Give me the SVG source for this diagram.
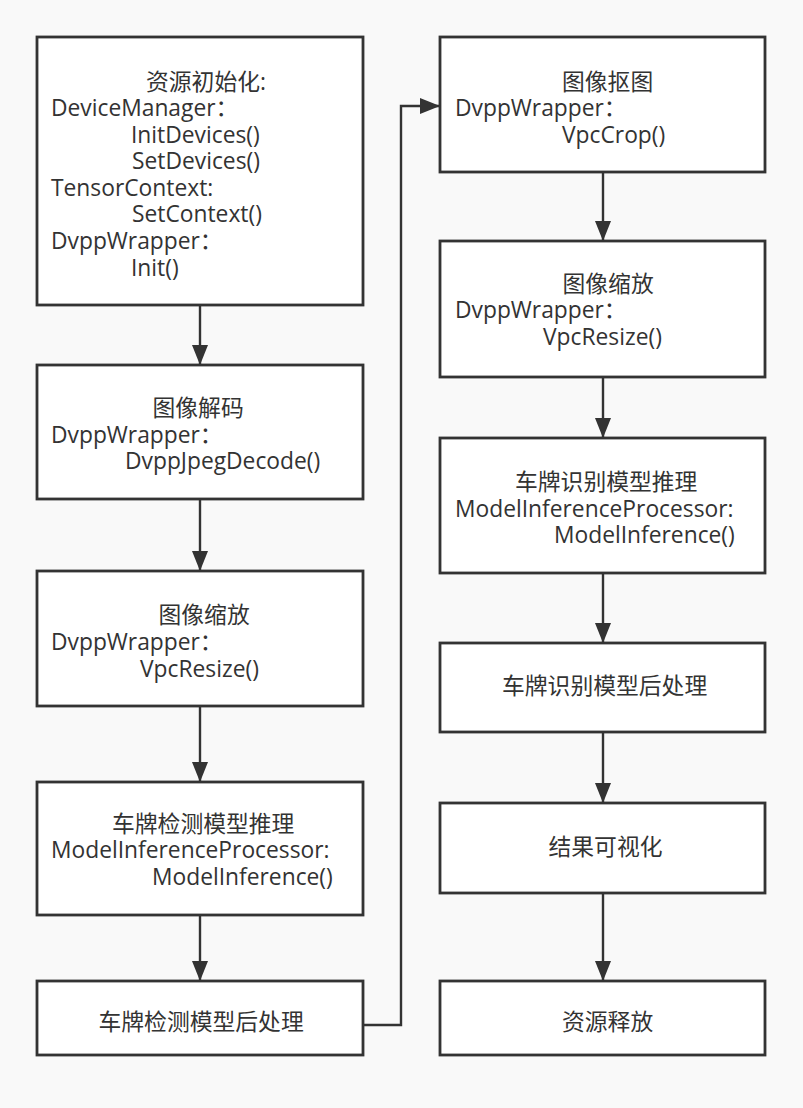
<svg xmlns="http://www.w3.org/2000/svg" width="803" height="1108" viewBox="0 0 803 1108">
<style>
.box{fill:#ffffff;stroke:#333333;stroke-width:2.8}
.t{font-family:"Open Sans","Noto Sans CJK SC",sans-serif;font-size:22.8px;fill:#333333}
.edge{fill:none;stroke:#333333;stroke-width:2.4}
</style>
<defs>
<marker id="arr" markerUnits="userSpaceOnUse" markerWidth="22" markerHeight="18" refX="20" refY="8" orient="auto">
<path d="M0,0 L20,8 L0,16 Z" fill="#333333"/>
</marker>
</defs>
<rect width="803" height="1108" fill="#f9f9f9"/>
<g id="connectors">
<path class="edge" d="M200,305 V365" marker-end="url(#arr)"/>
<path class="edge" d="M200,499 V571" marker-end="url(#arr)"/>
<path class="edge" d="M200,706 V782" marker-end="url(#arr)"/>
<path class="edge" d="M200,915 V981" marker-end="url(#arr)"/>
<path class="edge" d="M363,1025 H401 V106 H440" marker-end="url(#arr)"/>
<path class="edge" d="M603,172 V241" marker-end="url(#arr)"/>
<path class="edge" d="M603,377 V438" marker-end="url(#arr)"/>
<path class="edge" d="M603,573 V643" marker-end="url(#arr)"/>
<path class="edge" d="M603,732 V803" marker-end="url(#arr)"/>
<path class="edge" d="M603,893 V981" marker-end="url(#arr)"/>
</g>
<g id="n1">
<rect class="box" x="37" y="37" width="326" height="268"/>
<text class="t" x="146" y="89.5">资源初始化:</text>
<text class="t" x="51" y="116">DeviceManager：</text>
<text class="t" x="131" y="142.6">InitDevices()</text>
<text class="t" x="132" y="169.2">SetDevices()</text>
<text class="t" x="51" y="195.8">TensorContext:</text>
<text class="t" x="132" y="222.4">SetContext()</text>
<text class="t" x="51" y="249">DvppWrapper：</text>
<text class="t" x="131" y="275.6">Init()</text>
</g>
<g id="n2">
<rect class="box" x="37" y="365" width="326" height="134"/>
<text class="t" x="152.5" y="416">图像解码</text>
<text class="t" x="51" y="442.6">DvppWrapper：</text>
<text class="t" x="125" y="469.2">DvppJpegDecode()</text>
</g>
<g id="n3">
<rect class="box" x="37" y="571" width="326" height="135"/>
<text class="t" x="158.5" y="623.4">图像缩放</text>
<text class="t" x="51" y="650">DvppWrapper：</text>
<text class="t" x="140" y="676.6">VpcResize()</text>
</g>
<g id="n4">
<rect class="box" x="37" y="782" width="326" height="133"/>
<text class="t" x="112" y="831.8">车牌检测模型推理</text>
<text class="t" x="51" y="858.4">ModelInferenceProcessor:</text>
<text class="t" x="152" y="885">ModelInference()</text>
</g>
<g id="n5">
<rect class="box" x="37" y="981" width="326" height="74"/>
<text class="t" x="98.5" y="1030">车牌检测模型后处理</text>
</g>
<g id="n6">
<rect class="box" x="440" y="37" width="325" height="135"/>
<text class="t" x="562" y="89.5">图像抠图</text>
<text class="t" x="455" y="116">DvppWrapper：</text>
<text class="t" x="562" y="142.6">VpcCrop()</text>
</g>
<g id="n7">
<rect class="box" x="440" y="241" width="325" height="136"/>
<text class="t" x="562.5" y="291.5">图像缩放</text>
<text class="t" x="455" y="318">DvppWrapper：</text>
<text class="t" x="543" y="344.6">VpcResize()</text>
</g>
<g id="n8">
<rect class="box" x="440" y="438" width="325" height="135"/>
<text class="t" x="515" y="490.1">车牌识别模型推理</text>
<text class="t" x="455" y="516.7">ModelInferenceProcessor:</text>
<text class="t" x="554" y="543.3">ModelInference()</text>
</g>
<g id="n9">
<rect class="box" x="440" y="643" width="325" height="89"/>
<text class="t" x="502" y="693.5">车牌识别模型后处理</text>
</g>
<g id="n10">
<rect class="box" x="440" y="803" width="325" height="90"/>
<text class="t" x="548.5" y="855">结果可视化</text>
</g>
<g id="n11">
<rect class="box" x="440" y="981" width="325" height="74"/>
<text class="t" x="562" y="1030">资源释放</text>
</g>
</svg>
